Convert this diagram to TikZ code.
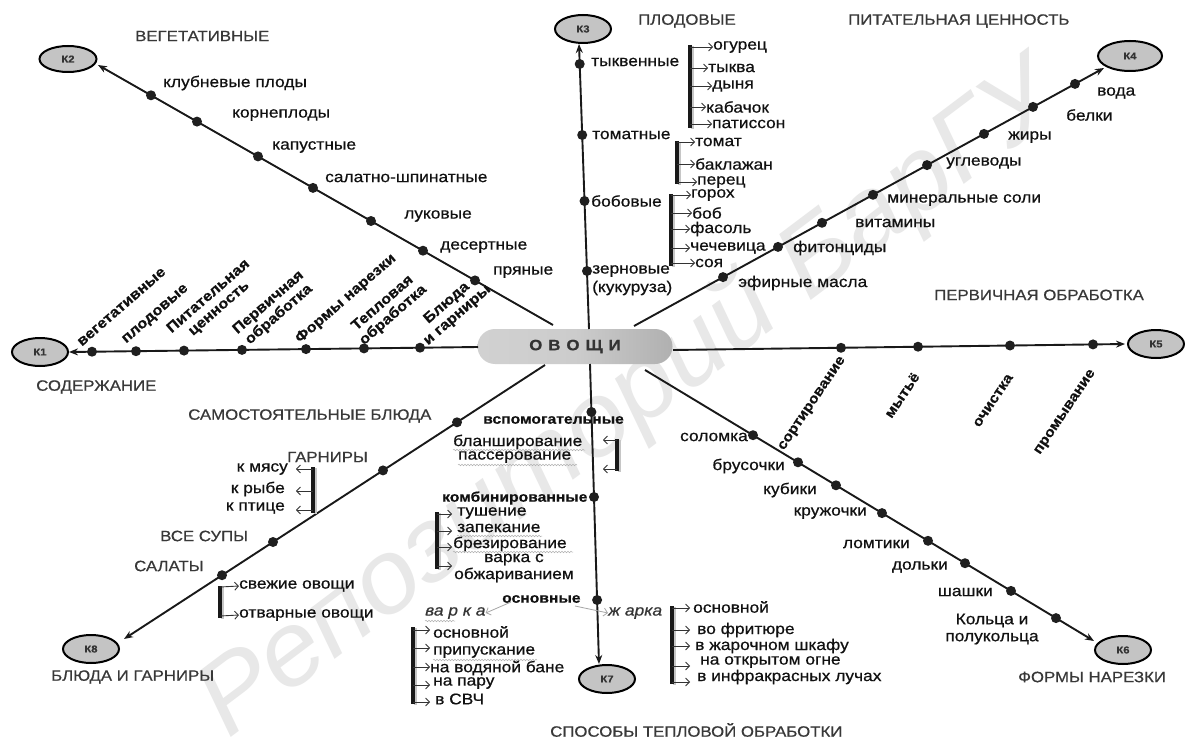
\documentclass[tikz,border=0pt]{standalone}
\usepackage{fontspec}
\setmainfont{Liberation Sans}[FakeStretch=1.12, FakeBold=0.6]
\newfontfamily\wmfont{Liberation Sans}[FakeStretch=1.05]
\usetikzlibrary{arrows.meta,shapes.geometric,shapes.misc,decorations.pathmorphing,calc}
\definecolor{ttlc}{HTML}{383838}
\definecolor{txtc}{HTML}{111111}
\definecolor{kfill}{HTML}{C4C4C4}
\begin{document}
\begin{tikzpicture}[x=1pt,y=-1pt,
  lab/.style={font=\fontsize{15.5}{17}\selectfont, text=txtc, inner sep=0pt},
  ttl/.style={font=\fontsize{15}{17}\selectfont, text=ttlc, inner sep=0pt, anchor=west},
  blab/.style={font=\bfseries\fontsize{14}{16}\selectfont, text=txtc, inner sep=0pt, anchor=west},
  ilab/.style={font=\itshape\fontsize{15.5}{17}\selectfont, text=txtc!85, inner sep=0pt, anchor=west},
  rlabA/.style={font=\bfseries\fontsize{14.5}{16}\selectfont, text=txtc, inner sep=0pt, rotate=41, anchor=south west, align=center},
  rlabB/.style={font=\bfseries\fontsize{14}{16}\selectfont, text=txtc, inner sep=0pt, rotate=56, anchor=north east},
  kel/.style={ellipse, draw=black, line width=2pt, fill=kfill, minimum width=56pt, minimum height=28pt, inner sep=0pt, font=\bfseries\fontsize{10}{10}\selectfont, text=black!80},
  dotn/.style={circle, fill=black!88, minimum size=10pt, inner sep=0pt},
  conn/.style={line width=1.9pt, draw=black!90, -{Stealth[length=9pt,width=7pt]}},
  brk/.style={line width=3.4pt, draw=black!90},
  brkshadow/.style={line width=3pt, draw=gray!45},
  barr/.style={line width=0.9pt, draw=black!80, -{Straight Barb[length=3.8pt,width=8pt]}},
  garr/.style={line width=0.8pt, draw=gray!70, -{Straight Barb[length=3.8pt,width=8pt]}},
  squig/.style={decorate, decoration={snake, amplitude=0.8pt, segment length=3pt}, draw=gray!60, line width=0.5pt}
]
\useasboundingbox (0,0) rectangle (1185,738);
\fill[white] (0,0) rectangle (1185,738);

% watermark
\node[rotate=37, anchor=base west, text=gray!18, font=\wmfont\itshape\fontsize{104}{104}\selectfont, inner sep=0pt] (wm) at (228,740) {Репозиторий БарГУ};

% central pill
\node[rounded rectangle, minimum width=195pt, minimum height=35pt, inner sep=0pt,
      left color=gray!36, right color=gray!62, middle color=gray!40,
      font=\bfseries\fontsize{15}{15}\selectfont, text=black!80] (ov) at (575,346.5)
      {О\hspace{6pt}В\hspace{6pt}О\hspace{6pt}Щ\hspace{6pt}И};

% K nodes
\node[kel] (K1) at (40,352) {К1};
\node[kel, minimum width=57pt, minimum height=26pt] (K2) at (68,59) {К2};
\node[kel] (K3) at (583,29) {К3};
\node[kel, minimum width=64pt, minimum height=30pt] (K4) at (1130,56) {К4};
\node[kel] (K5) at (1156,344) {К5};
\node[kel] (K6) at (1123,650) {К6};
\node[kel] (K7) at (607,679) {К7};
\node[kel] (K8) at (91,649) {К8};

% line ends
\coordinate (s1) at (478,347); \coordinate (t1) at (69,352);
\coordinate (s2) at (553,325); \coordinate (t2) at (98,65);
\coordinate (s3) at (589,329); \coordinate (t3) at (579,44);
\coordinate (s4) at (634,326); \coordinate (t4) at (1104,68);
\coordinate (s5) at (673,350); \coordinate (t5) at (1125,344);
\coordinate (s6) at (645,370); \coordinate (t6) at (1094,641);
\coordinate (s7) at (590,364); \coordinate (t7) at (599,664);
\coordinate (s8) at (545,365); \coordinate (t8) at (124,639);

\foreach \i in {1,...,8} { \draw[conn] (s\i) -- (t\i); }

% dots
\foreach \x/\y [count=\n] in {92/351.7,136/351.2,184/350.6,242/349.9,306/349.1,364/348.4,420/347.7}
  { \node[dotn] (a\n) at (\x,\y) {}; }
\foreach \x/\y [count=\n] in {151/95.3,197/121.6,258/156.4,313/187.9,371/221,423/250.7,475/280.4}
  { \node[dotn] (b\n) at (\x,\y) {}; }
\foreach \x/\y [count=\n] in {579.7/64,582.2/135,584.5/201,587/271}
  { \node[dotn] (c\n) at (\x,\y) {}; }
\foreach \x/\y [count=\n] in {723/277.1,778/246.9,822/222.8,873/194.8,927/165.1,984/133.9,1033/106.9,1075/83.9}
  { \node[dotn] (d\n) at (\x,\y) {}; }
\foreach \x/\y [count=\n] in {841/347.8,918/346.7,1010/345.5,1093/344.4}
  { \node[dotn] (e\n) at (\x,\y) {}; }
\foreach \x/\y [count=\n] in {753/435.2,798/462.3,836/485.3,882/513.1,928/540.8,965/563.2,1011/590.9,1056/618.1}
  { \node[dotn] (f\n) at (\x,\y) {}; }
\foreach \x/\y [count=\n] in {591.4/412,594/497,597.1/600}
  { \node[dotn] (g\n) at (\x,\y) {}; }
\foreach \x/\y [count=\n] in {457/422.3,383/470.4,273/542,222/575.2}
  { \node[dotn] (h\n) at (\x,\y) {}; }

% titles
\node[ttl] (T2) at (135,36) {ВЕГЕТАТИВНЫЕ};
\node[ttl] (T3) at (638,21) {ПЛОДОВЫЕ};
\node[ttl] (T4) at (848,21) {ПИТАТЕЛЬНАЯ ЦЕННОСТЬ};
\node[ttl] (T5) at (934,295) {ПЕРВИЧНАЯ ОБРАБОТКА};
\node[ttl] (T1) at (36,387) {СОДЕРЖАНИЕ};
\node[ttl] (T6) at (1018,677) {ФОРМЫ НАРЕЗКИ};
\node[ttl] (T7) at (550,730) {СПОСОБЫ ТЕПЛОВОЙ ОБРАБОТКИ};
\node[ttl] (T8) at (51,677) {БЛЮДА И ГАРНИРЫ};

% K1 rotated labels
\node[rlabA] (la1) at (82,347) {вегетативные};
\node[rlabA] (la2) at (128,346) {плодовые};
\node[rlabA] (la3) at (184,348) {Питательная\\ценность};
\node[rlabA] (la4) at (250,349) {Первичная\\обработка};
\node[rlabA] (la5) at (302,346) {Формы нарезки};
\node[rlabA] (la6) at (366,348) {Тепловая\\обработка};
\node[rlabA] (la7) at (430,348) {Блюда\\и гарниры};

% K2 labels
\node[lab, anchor=west] (lb1) at (163,83) {клубневые плоды};
\node[lab, anchor=west] (lb2) at (232,115) {корнеплоды};
\node[lab, anchor=west] (lb3) at (272,147) {капустные};
\node[lab, anchor=west] (lb4) at (325,178) {салатно-шпинатные};
\node[lab, anchor=west] (lb5) at (404,216) {луковые};
\node[lab, anchor=west] (lb6) at (440,247) {десертные};
\node[lab, anchor=west] (lb7) at (493,272) {пряные};

% K3 labels
\node[lab, anchor=west] (lc1) at (591,62) {тыквенные};
\node[lab, anchor=west] (lc2) at (592,135) {томатные};
\node[lab, anchor=west] (lc3) at (591,201) {бобовые};
\node[lab, anchor=west] (lc4) at (592,271) {зерновые};
\node[lab, anchor=west] (lc5) at (592,288) {(кукуруза)};

\draw[brkshadow] (692,46) -- (692,129);
\draw[brk] (690,45) -- (690,128);
\foreach \x/\y/\t [count=\n] in {713/47/огурец,708/68/тыква,712/86/дыня,706/107/кабачок,712/124/патиссон}
  { \node[lab, anchor=west] (p\n) at (\x,\y) {\t}; \draw[barr] (690,\y) -- (p\n.west); }
\draw[brkshadow] (679,142) -- (679,185);
\draw[brk] (677,141) -- (677,184);
\foreach \x/\y/\t [count=\n] in {695/142/томат,695/164/баклажан,697/182/перец}
  { \node[lab, anchor=west] (q\n) at (\x,\y) {\t}; \draw[barr] (677,\y) -- (q\n.west); }
\draw[brkshadow] (673,195) -- (673,267);
\draw[brk] (671,194) -- (671,266);
\foreach \x/\y/\t [count=\n] in {691/195/горох,692/213/боб,690/229/фасоль,690/248/чечевица,695/263/соя}
  { \node[lab, anchor=west] (r\n) at (\x,\y) {\t}; \draw[barr] (671,\y) -- (r\n.west); }

% K4 labels
\node[lab, anchor=west] (ld1) at (1097,93) {вода};
\node[lab, anchor=west] (ld2) at (1066,115) {белки};
\node[lab, anchor=west] (ld3) at (1008,137) {жиры};
\node[lab, anchor=west] (ld4) at (946,163) {углеводы};
\node[lab, anchor=west] (ld5) at (887,200) {минеральные соли};
\node[lab, anchor=west] (ld6) at (855,223) {витамины};
\node[lab, anchor=west] (ld7) at (793,248) {фитонциды};
\node[lab, anchor=west] (ld8) at (738,283) {эфирные масла};

% K5 labels
\node[rlabB] (le1) at (839,355) {сортирование};
\node[rlabB] (le2) at (912,371) {мытьё};
\node[rlabB] (le3) at (1007,373) {очистка};
\node[rlabB] (le4) at (1089,368) {промывание};

% K6 labels
\node[lab, anchor=east] (lf1) at (748,437) {соломка};
\node[lab, anchor=east] (lf2) at (785,466) {брусочки};
\node[lab, anchor=east] (lf3) at (817,490) {кубики};
\node[lab, anchor=east] (lf4) at (867,513) {кружочки};
\node[lab, anchor=east] (lf5) at (910,544) {ломтики};
\node[lab, anchor=east] (lf6) at (948,567) {дольки};
\node[lab, anchor=east] (lf7) at (993,592) {шашки};
\node[lab, align=center] (lf8) at (992,629) {Кольца и\\полукольца};

% K7 group
\node[blab] (vs) at (483,420) {вспомогательные};
\node[lab, anchor=west] (bl) at (453,442) {бланширование};
\node[lab, anchor=west] (ps) at (458,457) {пассерование};
\draw[squig] (453,450) -- (585,450);
\draw[squig] (458,465) -- (577,465);
\draw[brkshadow] (619,440) -- (619,472);
\draw[brk] (617,439) -- (617,471);
\draw[barr] (617,440) -- (603,440);
\draw[barr] (617,469) -- (603,469);

\node[blab] (km) at (442,498) {комбинированные};
\draw[brkshadow] (439,513) -- (439,570);
\draw[brk] (437,512) -- (437,569);
\node[lab, anchor=west] (k1) at (457,513) {тушение};
\node[lab, anchor=west] (k2) at (457,528) {запекание};
\node[lab, anchor=west] (k3) at (453,544) {брезирование};
\node[lab, align=center] (k4) at (514,568) {варка с\\обжариванием};
\draw[squig] (457,536) -- (542,536);
\draw[squig] (453,552) -- (573,552);
\foreach \y in {514,531,547,566} { \draw[barr] (437,\y) -- (452,\y); }

\node[blab] (os) at (502,599) {основные};
\node[ilab] (vr) at (425,613) {ва р к а};
\node[ilab] (zh) at (608,613) {ж арка};
\draw[squig] (425,621) -- (455,621);
\draw[garr] (os.south west) ++(9,-1) -- (vr.east);
\draw[garr] (575,606) -- (zh.west);

\draw[brkshadow] (415,628) -- (415,705);
\draw[brk] (413,627) -- (413,704);
\foreach \x/\y/\t [count=\n] in {433/632/основной,433/652/припускание,430/668/на водяной бане,433/683/на пару,435/699/в СВЧ}
  { \node[lab, anchor=west] (v\n) at (\x,\y) {\t}; }
\foreach \y in {630,648,667,685,702} { \draw[barr] (413,\y) -- (430,\y); }
\draw[squig] (433,660) -- (537,660);

\draw[brkshadow] (674,607) -- (674,685);
\draw[brk] (672,606) -- (672,684);
\foreach \x/\y/\t [count=\n] in {693/607/основной,697/630/во фритюре,695/646/в жарочном шкафу,700/662/на открытом огне,697/677/в инфракрасных лучах}
  { \node[lab, anchor=west] (w\n) at (\x,\y) {\t}; }
\foreach \y in {608,630,646,666,682} { \draw[barr] (672,\y) -- (690,\y); }

% K8 group
\node[ttl] (sb) at (188,416) {САМОСТОЯТЕЛЬНЫЕ БЛЮДА};
\node[ttl] (gr) at (287,457) {ГАРНИРЫ};
\node[ttl] (su) at (160,536) {ВСЕ СУПЫ};
\node[ttl] (sl) at (134,566) {САЛАТЫ};
\node[lab, anchor=east] (m1) at (288,469) {к мясу};
\node[lab, anchor=east] (m2) at (285,489) {к рыбе};
\node[lab, anchor=east] (m3) at (285,508) {к птице};
\draw[brkshadow] (315,468) -- (315,514);
\draw[brk] (313,467) -- (313,513);
\foreach \y in {469,491,510} { \draw[barr] (313,\y) -- (296,\y); }
\node[lab, anchor=west] (o1) at (239,586) {свежие овощи};
\node[lab, anchor=west] (o2) at (239,615) {отварные овощи};
\draw[brkshadow] (222,587) -- (222,619);
\draw[brk] (220,586) -- (220,618);
\draw[barr] (220,587) -- (o1.west);
\draw[barr] (220,616) -- (o2.west);
\end{tikzpicture}
\end{document}
